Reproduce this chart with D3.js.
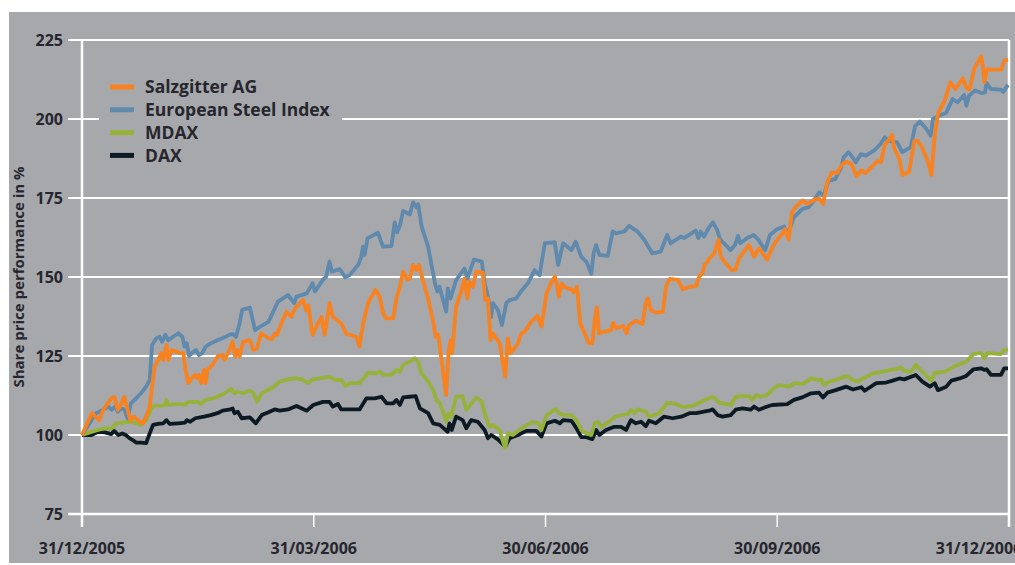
<!DOCTYPE html>
<html>
<head>
<meta charset="utf-8">
<script src="https://d3js.org/d3.v7.min.js"></script>
<style>
  body { margin: 0; background: #fff; }
  svg text { font-family: "Open Sans", "Liberation Sans", sans-serif; font-weight: 700; fill: #26262e; }
</style>
</head>
<body>
<svg id="chart" width="1015" height="565"></svg>

<script>
  // series: [days after 31/12/2005, share price performance in %]
  var salzgitter = [[0,100],[3.9,107],[5.6,105.4],[6.6,104.7],[8.3,108],[10,110],[11.5,111.7],[12.6,112],[13.9,108],[14.8,109],[16.4,112],[17.4,109],[18.8,104.7],[20.1,105.8],[21.6,104.7],[23.6,103.7],[24.9,105.8],[26.3,109],[27.2,115.3],[28.2,121.6],[29.5,123.7],[30.8,125.9],[31.5,123.7],[32.8,128.5],[33.5,123.7],[34.8,126.9],[36.7,126.4],[38.1,125.9],[39.4,125.9],[40,121.6],[41.3,116.4],[42.6,118],[43.9,119],[44.6,118],[45.4,119],[46.3,116.4],[47.4,120.6],[48,116.4],[48.7,120.6],[50.7,122.2],[52.6,124.8],[54.6,125.3],[55.3,123.7],[57.2,126.9],[58.5,129.5],[59.5,124.8],[60.5,126.9],[61.2,124.8],[62.6,129.5],[65.2,130],[66.5,126.9],[67.9,127.4],[69.6,132.2],[72.4,130.6],[73.8,130.3],[74.8,132],[75.8,131.7],[77.4,135.3],[79.4,139],[81.4,137.4],[82.7,140],[85.9,142.8],[87,139.4],[87.9,141],[89.5,131.7],[91,134.3],[93,137.4],[94.3,131.7],[96.2,141.7],[97.5,137.4],[100.8,135.3],[102.8,132],[106.7,131.1],[108,128],[109.4,135.3],[111.3,141.7],[114.2,145.9],[115.9,143.8],[117.2,138.5],[118.6,136.9],[121.2,136.9],[122.5,143.5],[123.8,146.9],[125.1,151.7],[126.8,149.1],[127.7,149.5],[129,153.8],[130.4,152.2],[131.3,153.8],[132.3,150.6],[134.9,143.2],[136.9,135.8],[137.9,131.1],[138.9,131.7],[140,124.8],[141,118.5],[142,112.7],[142.9,125.9],[143.7,130],[144.3,125.9],[145.9,140.6],[147.9,145.4],[149.2,149.5],[150.3,143.2],[151.2,148.5],[152.5,146.9],[153.8,151.7],[156.4,151.4],[157.3,142.7],[158.4,143.2],[159.4,130],[160.3,132.2],[163,129],[164.3,122.7],[165.2,118.5],[166.2,130.6],[167.3,125.9],[170.2,129],[171.5,132.2],[172.8,132.7],[175.4,135.8],[177.8,137.7],[179.4,134.3],[181.4,144.8],[183.4,148.5],[184.7,150.1],[185.4,148],[186.3,143.8],[187.4,148],[188.7,146.7],[191.3,146.1],[192.2,145.1],[193.5,146.9],[194.8,135.3],[196.5,132.2],[198.2,129],[199.6,129],[200.5,136.4],[201.4,140.4],[202.2,132.2],[204.4,132.7],[207,133.2],[207.9,135.5],[209,133.8],[211.9,134.5],[213.2,132.2],[214.2,134.8],[216.9,136.2],[219.5,135.1],[220.8,141.7],[221.7,143.2],[222.8,139.6],[224.8,138.7],[227.6,139],[228.8,146.9],[230.3,149.4],[233.6,149.1],[235.5,146.1],[237.5,146.7],[240.8,147.2],[242.1,150.3],[243.4,151.2],[244.1,153.8],[245.4,154.9],[246,155.9],[248,157.5],[249.7,161.8],[250.6,156.4],[252.6,154.3],[255,152.2],[256.5,152.4],[257.8,155.9],[259.8,158],[261.8,160.1],[263.8,156.4],[265.7,159.1],[269,155.5],[270.3,158],[272,160.7],[275,163.8],[276.1,165.1],[277.5,161.8],[278.8,170.4],[280.5,172.4],[283.1,174.2],[285,173.1],[287.7,174.5],[289.6,174.9],[291.2,173.1],[292.9,180],[294.6,183.1],[296.8,182.9],[298.3,185.2],[300.3,186.5],[302.4,185.8],[304.5,181.9],[306.4,183.7],[308.1,182.9],[310.3,184.7],[312.9,186.8],[314.2,186.3],[315.5,191.5],[318.6,194.9],[319.5,190.5],[321.5,187.3],[322.7,182.3],[325.4,183.3],[327.4,193.1],[328.8,193.1],[330.8,190.5],[332.9,186.3],[334.2,182.3],[335.5,194.7],[336.8,201.6],[339.5,205.9],[341.7,211.6],[343.8,209.5],[346.7,212.9],[348,210],[349.3,209.3],[351.3,216.1],[353.9,219.8],[354.6,216.8],[355.2,211.6],[356.2,215.8],[358,215.6],[361.9,215.6],[363.2,218.5],[364.6,218.8]];

  var steelIndex = [[0,100],[3.7,104.7],[5.6,106.9],[8.3,108],[10.2,109],[11.5,108],[12.9,109],[13.9,107.4],[15.1,108.4],[16.4,108.1],[17.7,105.3],[19,110],[21,111.6],[22.9,113.2],[24.9,115.3],[26.3,117.4],[27.2,128.5],[28.9,130.6],[30.2,131.1],[31.1,129.5],[32.4,131.7],[33.5,130],[35.4,131.1],[37.4,132.2],[39,131.1],[39.8,128],[40.7,129],[41.6,125],[43.3,126.4],[44.3,126.9],[45.4,125.3],[46.7,125.9],[48,128],[50,129],[52.6,130],[55.3,130.9],[57.2,131.7],[58.5,132],[59.8,131.1],[61.2,135.3],[62.2,139.6],[65.2,140.3],[67.2,133.2],[69.2,134.3],[72.4,135.8],[76.1,142.2],[80,144.3],[82.4,141.7],[83.3,143.8],[87.3,144.8],[89.5,148],[90.5,145.4],[93.6,149.1],[94.9,150.1],[96.2,154.9],[97.1,151.7],[100.2,152.5],[102.4,149.9],[104.1,150.6],[107.4,153.8],[108.7,156.4],[109.3,159.6],[110,157],[111.1,162.2],[115.2,164],[117.2,159.6],[120.5,159.8],[121.8,167.3],[122.7,164.1],[123.8,166.2],[125.1,170.9],[127.7,169.8],[129,173.6],[130.4,172],[131,173],[132.3,166.2],[134.9,159.6],[137.6,148],[138.5,145.4],[139.4,146.9],[142,139],[142.6,146.4],[143.7,143.2],[145.9,149],[149.2,152.7],[150.3,149.5],[152.9,155.5],[156,154.9],[157.1,148],[158.4,143.8],[159.7,137.4],[160.3,141.7],[162.3,139.6],[163.9,134.8],[165.6,141.7],[166.9,142.7],[169.5,143.2],[171.5,145.6],[174.1,148],[176.7,152.2],[178.7,150.6],[180.7,160.7],[183.4,160.9],[184.7,161],[186,153.8],[188,160.7],[191.3,158.5],[193,161.2],[195.2,156.4],[197.2,154.9],[199.2,151],[200.1,157.5],[201.1,160.1],[202.4,157],[205.7,156.7],[207.7,164.4],[209,163.8],[212.3,164.4],[214.2,166.2],[217.5,164.4],[220.2,161.8],[223.4,157.5],[226.7,158],[229.3,163.3],[230.7,160.7],[234.7,162.8],[236,162.3],[238,163.3],[240.6,164.7],[241.7,162.3],[242.6,164.4],[243.9,162.8],[245.8,165.5],[247.4,167.3],[249.1,165],[250.4,161.8],[252.4,160.2],[254.4,158.5],[256.3,160.2],[257.4,163],[258.3,160.7],[260.9,162.3],[263.6,163.3],[265.5,161.8],[268.2,158.5],[270.1,163.3],[272.7,165],[275.7,166],[277,163.3],[279.6,168.9],[282.9,171.5],[285.5,172.1],[287.5,174.2],[289.7,176.8],[291.4,175.8],[293.4,180.5],[296,181],[298.1,184.2],[299.4,187.9],[301.3,189.5],[302.9,187.9],[304.2,186.3],[306.2,188.9],[308.1,188.4],[311.4,190],[314,192.1],[315.7,194.2],[317.3,193.1],[320.6,192.6],[322.6,189.5],[326,191.1],[327.7,197.7],[329.6,199.2],[332,197.1],[333.9,194.7],[334.8,200],[337.4,201.1],[340,201.9],[342.6,206.3],[344.6,205.3],[347.2,207.6],[348.1,204.2],[349.2,207.4],[351.5,209],[354.2,208.2],[355.5,208.4],[356,211.4],[357.8,209.5],[361.8,209.3],[362.7,208.6],[364.6,210.8]];

  var mdax = [[0,100],[3.7,101],[6.2,101.6],[8.8,102.1],[11.4,102.1],[13.3,103.7],[16.4,104],[19,104.2],[21,103.7],[22.9,103.2],[24.9,104.7],[26.9,108.4],[28.2,109.3],[30.8,109.3],[32.2,109.5],[32.8,111.1],[33.5,109.5],[36.1,109.8],[38.7,109.8],[40,109.5],[41.3,110.5],[44.9,110.5],[46.1,109.8],[48,111.1],[50,111.4],[52.6,112.1],[55.3,113.2],[57.9,114.6],[59.2,113.2],[60.5,113.7],[62.5,113.2],[65.2,114],[66.5,113.2],[67.9,110.5],[69.8,113.2],[72.4,114.4],[74.2,115.1],[76.8,116.9],[80,117.6],[83.3,118],[85.3,117.6],[87.9,116.4],[89.5,117.6],[93,118],[96.2,118.5],[98.2,117.4],[100.8,117.4],[102.4,115.5],[104.1,116.4],[108,116.4],[111.3,119.7],[114,119.5],[115.9,120],[117.6,119],[120.5,119],[122.5,120.6],[123.8,120],[125.1,122.2],[127.7,123.2],[129.7,124.3],[131,123.2],[132.3,119.5],[134.9,116.9],[136.9,114.2],[138.2,111.1],[139.5,110],[140.7,107.4],[142,104.2],[142.9,106.9],[144,105.8],[145.9,112.1],[148.5,112.3],[149.9,107.9],[153.8,111.9],[156,110.5],[157.1,106.9],[159,102.6],[160.3,103.2],[163,101.6],[164.3,97.9],[165.2,95.8],[166.2,100.5],[168.2,100],[171.5,102.1],[175.4,103.9],[178.1,103.9],[179.4,101.6],[181.4,106.3],[185,108.2],[186.4,106.9],[188,106.3],[191.3,106.3],[193.3,104.7],[195.2,101.6],[197.2,100.5],[199.2,100],[200.5,103.7],[201.8,104.2],[203.1,102.6],[205.7,103.9],[209,106],[213.6,106.6],[214.9,107.9],[216.2,106.9],[217.5,108.1],[220.8,107.4],[222.1,105.8],[226.1,106.9],[229.4,110.2],[232.2,110],[235.6,108.8],[239.5,109.2],[242.1,110.3],[244.7,111.2],[247.4,112.1],[250,110.2],[251.3,110],[254.6,109.5],[256.5,112.1],[259.8,112.3],[261.8,112.3],[263.1,111.1],[264.7,112.7],[266.4,112.1],[269,112.7],[271,114.4],[273.6,115.8],[276.5,115.5],[277.8,115.3],[279.8,116.4],[283.1,116.1],[286.4,117.9],[289,117.4],[290.4,117.6],[291.6,115.8],[293.6,116.9],[296.9,117.6],[300.4,118.7],[303.1,117.4],[305,116.9],[307,117.9],[311,119.5],[314.2,120],[318.1,120.6],[320.1,120.8],[322.1,121.4],[323.4,120.3],[326,120],[328,122.2],[330.6,120],[334.2,117.2],[335.5,119.7],[339.5,120],[341.4,120.8],[343.4,121.8],[348,123.2],[350.9,125.6],[353.9,126],[355.2,124.3],[356.5,125.9],[361.8,125.6],[363.1,126.9],[364.6,127.1]];

  var dax = [[0,100],[3.7,100],[6.2,101],[8.8,100.8],[11.4,100.3],[12.5,101.3],[14.1,100],[15.7,100.5],[17,100],[18.4,99],[19.7,98.4],[21,97.6],[22.9,97.6],[24.9,97.4],[26.3,100.5],[27.6,103.2],[29.5,103.5],[31.5,103.7],[32.8,104.7],[34.1,103.5],[37.4,103.7],[40,103.9],[40.7,104.7],[42,104.2],[44,105.3],[47.4,105.8],[50,106.3],[52.6,106.9],[54.6,107.7],[57.2,108],[58.5,108.4],[59.2,106.9],[60.5,107.4],[62,105.3],[65.2,105.6],[67.5,103.7],[69.8,106.3],[72.4,107.2],[74.8,108.1],[76.8,107.7],[80,108.1],[83.3,109.2],[87.3,107.7],[89.8,109.5],[93.6,110.5],[96.2,110.5],[97.5,109],[99.5,109.8],[100.8,108.1],[104.1,108.1],[108,108.1],[110.7,111.6],[114,111.6],[116.6,112.1],[118.6,110],[121.2,110],[122.5,111.1],[123.8,109.5],[125.1,111.9],[127.7,112.1],[130,112.3],[131.7,108.4],[134.9,106.9],[136.9,103.7],[139.5,103.2],[142.6,101],[143.3,103.7],[144.2,101.6],[145.9,105.8],[148.5,104.7],[149.9,102.1],[151.8,104.7],[154.4,104.2],[157.1,101.6],[158.4,99],[159.7,100],[162.3,98.6],[165.2,96.3],[166.9,99],[170.2,100],[173.5,101.3],[177.4,101.3],[179.4,99.5],[181.4,103.7],[184.7,104.5],[186.7,103.7],[188,104.7],[191.3,104.5],[193.3,102.1],[195.2,99.3],[197.2,99.3],[199.6,98.7],[201.1,101.6],[202.4,100],[205,101.6],[208.3,102.6],[211,102.6],[213,101.6],[214.9,104.7],[216.9,103.7],[218.9,104.2],[220.8,102.8],[222.1,104.5],[224.8,103.7],[228,105.8],[231.5,105.3],[234.9,105.8],[238.2,106.9],[240.8,106.9],[243.4,107.3],[246,107.7],[247.4,108.1],[249.3,106.3],[251.3,105.8],[254.6,106.3],[256.5,108],[259.2,108.4],[262.5,108],[263.8,109],[265.7,108],[269,109],[271,109.5],[277,109.8],[279.6,111.1],[282.9,111.9],[286.4,113.2],[289.6,113.4],[291.2,111.9],[292.9,113.4],[296.2,114.2],[300.4,115.3],[303.1,114.4],[306.4,115.1],[307.7,114],[312.3,116.4],[316.2,116.6],[318.8,117.2],[321.5,117.9],[323.4,117.6],[328,119],[330.6,116.9],[333.6,115.3],[335.5,116.4],[336.8,114.2],[340.1,115.3],[342.1,117.2],[345.4,117.9],[348,118.7],[350.9,120.8],[353.9,121.1],[355.2,120.6],[356.1,120.8],[357.9,119],[361.8,119],[363.1,121.1],[364.6,121.1]];

  var seriesNames = ["Salzgitter AG", "European Steel Index", "MDAX", "DAX"];
  var seriesColors = ["#f7821f", "#5f8aad", "#97b23a", "#0c1a24"];
  var xTickLabels = ["31/12/2005", "31/03/2006", "30/06/2006", "30/09/2006", "31/12/2006"];
  var yTicks = [75, 100, 125, 150, 175, 200, 225];
  var yTitle = "Share price performance in %";

  var bg = "#a7a8ab";
  var plotLeft = 82, plotRight = 1009, plotTop = 40, plotBottom = 514;

  var parseDate = d3.utcParse("%d/%m/%Y");
  var startMs = parseDate(xTickLabels[0]).getTime();
  function toDate(days) { return new Date(startMs + days * 864e5); }

  // quarter ticks sit evenly spaced on the original axis
  var x = d3.scaleUtc()
    .domain(xTickLabels.map(parseDate))
    .range(xTickLabels.map(function(d, i) { return plotLeft + i * (plotRight - plotLeft) / (xTickLabels.length - 1); }));

  var y = d3.scaleLinear().domain([75, 225]).range([plotBottom, plotTop]);

  var svg = d3.select("#chart");

  svg.append("rect")
    .attr("x", 9).attr("y", 12)
    .attr("width", 1006).attr("height", 551)
    .attr("fill", bg);

  // horizontal grid lines (with tick stubs to the left)
  svg.selectAll(".grid")
    .data(yTicks)
    .enter().append("line")
    .attr("x1", plotLeft - 14).attr("x2", plotRight)
    .attr("y1", function(d) { return y(d); })
    .attr("y2", function(d) { return y(d); })
    .attr("stroke", "#fff")
    .attr("stroke-width", function(d) { return d === 75 ? 2.5 : 2; });

  // vertical frame lines + date ticks below the axis
  svg.selectAll(".xtick")
    .data(xTickLabels)
    .enter().append("line")
    .attr("x1", function(d) { return x(parseDate(d)); })
    .attr("x2", function(d) { return x(parseDate(d)); })
    .attr("y1", function(d, i) { return (i === 0 || i === xTickLabels.length - 1) ? plotTop : plotBottom; })
    .attr("y2", plotBottom + 13)
    .attr("stroke", "#fff")
    .attr("stroke-width", function(d, i) { return (i === 0 || i === xTickLabels.length - 1) ? 2.5 : 1.5; });

  // y labels
  svg.selectAll(".ylab")
    .data(yTicks)
    .enter().append("text")
    .attr("x", plotLeft - 19)
    .attr("y", function(d) { return y(d); })
    .attr("dy", "0.36em")
    .attr("text-anchor", "end")
    .style("font-size", "16px")
    .text(function(d) { return d; });

  // x labels
  svg.selectAll(".xlab")
    .data(xTickLabels)
    .enter().append("text")
    .attr("x", function(d, i) { return x(parseDate(d)) - (i === xTickLabels.length - 1 ? 30 : 0); })
    .attr("y", plotBottom + 40)
    .attr("text-anchor", "middle")
    .style("font-size", "16px")
    .text(function(d) { return d; });

  svg.append("text")
    .attr("transform", "translate(24," + ((plotTop + plotBottom) / 2) + ") rotate(-90)")
    .attr("text-anchor", "middle")
    .style("font-size", "15px")
    .text(yTitle);

  // lines, drawn so Salzgitter sits on top
  var line = d3.line()
    .x(function(d) { return x(toDate(d[0])); })
    .y(function(d) { return y(d[1]); });

  var seriesData = [salzgitter, steelIndex, mdax, dax];
  var order = [3, 2, 1, 0];

  svg.selectAll(".series")
    .data(order)
    .enter().append("path")
    .attr("d", function(i) { return line(seriesData[i]); })
    .attr("fill", "none")
    .attr("stroke", function(i) { return seriesColors[i]; })
    .attr("stroke-width", 3.8)
    .attr("stroke-linejoin", "round");

  // legend (its box hides the grid line behind it)
  var legend = svg.append("g");
  legend.append("rect")
    .attr("x", 99).attr("y", 68)
    .attr("width", 243).attr("height", 104)
    .attr("fill", bg);

  legend.selectAll(".swatch")
    .data(seriesNames)
    .enter().append("rect")
    .attr("x", 110)
    .attr("y", function(d, i) { return 87 + i * 22.8 - 2.5; })
    .attr("width", 24).attr("height", 5)
    .attr("fill", function(d, i) { return seriesColors[i]; });

  legend.selectAll(".ltext")
    .data(seriesNames)
    .enter().append("text")
    .attr("x", 145)
    .attr("y", function(d, i) { return 87 + i * 22.8; })
    .attr("dy", "0.36em")
    .style("font-size", "17.5px")
    .text(function(d) { return d; });
</script>
</body>
</html>
